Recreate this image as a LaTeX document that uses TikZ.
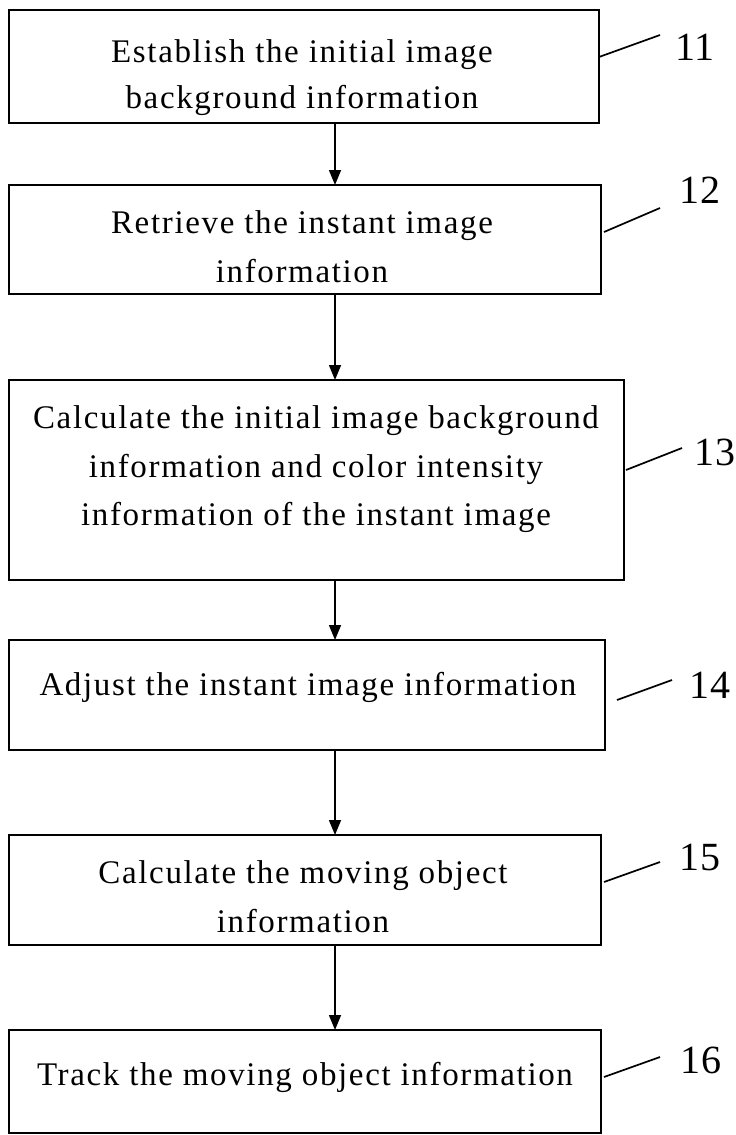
\documentclass[tikz,border=0pt]{standalone}
\usepackage{fontspec}
\setmainfont{Liberation Serif}[LetterSpace=5]
\newfontfamily\numfont{Liberation Serif}[LetterSpace=1]
\usetikzlibrary{arrows.meta}
\begin{document}
\begin{tikzpicture}[x=1pt,y=-1pt,
  box/.style={draw,line width=2pt,inner sep=0pt,outer sep=0pt},
  txt/.style={anchor=base,inner sep=0pt,font=\fontsize{33}{48}\selectfont},
  num/.style={anchor=base,inner sep=0pt,font=\numfont\fontsize{40}{48}\selectfont},
  arr/.style={line width=1.5pt,-{Triangle[length=15pt,width=12pt]}},
  lead/.style={line width=1.7pt}]
\useasboundingbox (0,0) rectangle (736,1135);
% boxes
\node[box,minimum width=590pt,minimum height=113pt] (b1) at (304,66.5) {};
\node[box,minimum width=592pt,minimum height=109pt] (b2) at (305,239.5) {};
\node[box,minimum width=615pt,minimum height=200pt] (b3) at (316.5,480) {};
\node[box,minimum width=596pt,minimum height=110pt] (b4) at (307,695) {};
\node[box,minimum width=592pt,minimum height=110pt] (b5) at (305,890) {};
\node[box,minimum width=592pt,minimum height=103pt] (b6) at (305,1081.5) {};
% texts
\node[txt] (t1a) at (302,62) {Establish the initial image};
\node[txt] (t1b) at (302,108) {background information};
\node[txt] (t2a) at (302,233) {Retrieve the instant image};
\node[txt] (t2b) at (302,282) {information};
\node[txt] (t3a) at (316,428) {Calculate the initial image background};
\node[txt] (t3b) at (316,477) {information and color intensity};
\node[txt] (t3c) at (316,525) {information of the instant image};
\node[txt] (t4a) at (308,695) {Adjust the instant image information};
\node[txt] (t5a) at (303,883) {Calculate the moving object};
\node[txt] (t5b) at (303,932) {information};
\node[txt] (t6a) at (305,1085) {Track the moving object information};
% arrows
\coordinate (ax) at (335,0);
\draw[arr] (b1.south -| ax) -- (b2.north -| ax);
\draw[arr] (b2.south -| ax) -- (b3.north -| ax);
\draw[arr] (b3.south -| ax) -- (b4.north -| ax);
\draw[arr] (b4.south -| ax) -- (b5.north -| ax);
\draw[arr] (b5.south -| ax) -- (b6.north -| ax);
% leaders and reference numerals
\coordinate (s1) at (599,57);   \coordinate (e1) at (660,35);
\coordinate (s2) at (604,232);  \coordinate (e2) at (660,208);
\coordinate (s3) at (626,470);  \coordinate (e3) at (682,448);
\coordinate (s4) at (617,700);  \coordinate (e4) at (672,680);
\coordinate (s5) at (604,882);  \coordinate (e5) at (660,862);
\coordinate (s6) at (604,1077); \coordinate (e6) at (660,1057);
\draw[lead] (s1) -- (e1);
\draw[lead] (s2) -- (e2);
\draw[lead] (s3) -- (e3);
\draw[lead] (s4) -- (e4);
\draw[lead] (s5) -- (e5);
\draw[lead] (s6) -- (e6);
\node[num] (n11) at (695,60) {11};
\node[num] (n12) at (700,203) {12};
\node[num] (n13) at (715,465) {13};
\node[num] (n14) at (710,698) {14};
\node[num] (n15) at (700,870) {15};
\node[num] (n16) at (701,1073) {16};
\end{tikzpicture}
\end{document}
